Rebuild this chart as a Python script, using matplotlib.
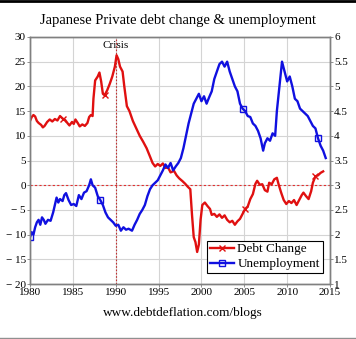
import matplotlib
matplotlib.use("Agg")
import matplotlib.pyplot as plt
from matplotlib.lines import Line2D

plt.rcParams["font.family"] = ["Liberation Serif", "DejaVu Serif"]

# Private debt change (% of GDP, left axis)
debt_years = [1980.0, 1980.2, 1980.4, 1980.6, 1980.8, 1981.0, 1981.3, 1981.5, 1981.7, 1982.0,
              1982.3, 1982.6, 1982.9, 1983.2, 1983.5, 1983.8, 1984.1, 1984.4, 1984.6, 1984.9,
              1985.1, 1985.3, 1985.6, 1985.8, 1986.1, 1986.4, 1986.7, 1986.9, 1987.1, 1987.3,
              1987.4, 1987.6, 1987.9, 1988.1, 1988.3, 1988.5, 1988.7, 1989.0, 1989.3, 1989.6,
              1989.9, 1990.1, 1990.3, 1990.5, 1990.8, 1991.0, 1991.3, 1991.6, 1992.0, 1992.4,
              1992.8, 1993.2, 1993.6, 1994.0, 1994.3, 1994.6, 1994.9, 1995.2, 1995.5, 1995.8,
              1996.1, 1996.4, 1996.8, 1997.1, 1997.4, 1997.8, 1998.1, 1998.4, 1998.7, 1998.9,
              1999.1, 1999.3, 1999.5, 1999.7, 1999.9, 2000.1, 2000.4, 2000.7, 2001.0, 2001.2,
              2001.5, 2001.8, 2002.1, 2002.4, 2002.7, 2003.0, 2003.3, 2003.6, 2003.9, 2004.2,
              2004.5, 2004.8, 2005.1, 2005.4, 2005.7, 2006.0, 2006.3, 2006.5, 2006.8, 2007.1,
              2007.4, 2007.7, 2007.9, 2008.2, 2008.5, 2008.8, 2009.0, 2009.3, 2009.6, 2009.9,
              2010.2, 2010.5, 2010.8, 2011.1, 2011.4, 2011.7, 2011.9, 2012.2, 2012.5, 2012.8,
              2013.0, 2013.3, 2013.6, 2013.9, 2014.2]
debt_vals = [13.0, 13.8, 14.2, 13.9, 13.0, 12.6, 12.2, 11.7, 12.0, 12.8,
             13.3, 12.9, 13.4, 13.1, 14.0, 13.5, 13.2, 12.5, 12.1, 12.8,
             12.4, 13.3, 12.5, 11.9, 12.3, 12.0, 12.6, 13.8, 14.2, 14.0,
             17.5, 21.2, 22.0, 22.8, 21.0, 18.5, 18.2, 19.2, 20.5, 22.0,
             24.0, 26.3, 25.5, 24.0, 23.0, 20.0, 16.0, 15.0, 13.0, 11.5,
             10.0, 8.8, 7.5, 5.8, 4.5, 3.8, 4.3, 3.9, 4.4, 3.5,
             3.6, 2.6, 2.9, 2.0, 1.4, 0.8, 0.3, -0.3, -0.8, -6.0,
             -10.5, -11.5, -13.5, -12.0, -7.0, -4.0, -3.5, -4.2, -4.8, -6.0,
             -5.8, -6.4, -5.9, -6.6, -6.1, -7.0, -7.5, -7.2, -8.0, -7.3,
             -6.8, -5.8, -4.8, -4.3, -2.8, -1.8, 0.3, 0.9, 0.1, 0.2,
             -1.0, -1.3, 0.5, 0.2, 1.2, 1.5, 0.2, -1.5, -3.0, -3.8,
             -3.2, -3.6, -3.0, -4.0, -3.0, -2.0, -1.5, -2.2, -2.8, -1.2,
             0.5, 1.8, 2.0, 2.5, 2.8]

# Unemployment rate (%, right axis)
unemp_years = [1980.0, 1980.2, 1980.4, 1980.6, 1980.8, 1981.0, 1981.2, 1981.4, 1981.6, 1981.8,
               1982.1, 1982.4, 1982.7, 1982.9, 1983.1, 1983.3, 1983.5, 1983.8, 1984.0, 1984.2,
               1984.5, 1984.8, 1985.1, 1985.4, 1985.7, 1986.0, 1986.3, 1986.6, 1986.9, 1987.1,
               1987.3, 1987.6, 1987.9, 1988.2, 1988.5, 1988.8, 1989.1, 1989.4, 1989.7, 1990.0,
               1990.3, 1990.6, 1990.9, 1991.2, 1991.5, 1991.9, 1992.2, 1992.5, 1992.8, 1993.1,
               1993.4, 1993.7, 1994.0, 1994.3, 1994.6, 1994.9, 1995.2, 1995.5, 1995.8, 1996.1,
               1996.4, 1996.7, 1997.0, 1997.3, 1997.6, 1997.9, 1998.2, 1998.5, 1998.8, 1999.1,
               1999.4, 1999.7, 2000.0, 2000.3, 2000.6, 2000.9, 2001.2, 2001.5, 2001.8, 2002.1,
               2002.4, 2002.7, 2003.0, 2003.3, 2003.6, 2003.9, 2004.2, 2004.5, 2004.8, 2005.1,
               2005.4, 2005.7, 2006.0, 2006.3, 2006.6, 2006.9, 2007.2, 2007.4, 2007.7, 2008.0,
               2008.3, 2008.6, 2008.8, 2009.1, 2009.4, 2009.7, 2010.0, 2010.3, 2010.6, 2010.9,
               2011.2, 2011.5, 2011.8, 2012.1, 2012.4, 2012.7, 2013.0, 2013.3, 2013.6, 2013.9,
               2014.2, 2014.5]
unemp_vals = [1.95, 2.05, 2.0, 2.15, 2.25, 2.3, 2.2, 2.35, 2.3, 2.22,
              2.3, 2.28, 2.45, 2.6, 2.75, 2.65, 2.72, 2.68, 2.8, 2.84,
              2.7, 2.6, 2.62, 2.58, 2.8, 2.72, 2.85, 2.88, 3.0, 3.12,
              3.0, 2.95, 2.78, 2.7, 2.6, 2.45, 2.35, 2.3, 2.25, 2.18,
              2.2, 2.08, 2.15, 2.1, 2.12, 2.08, 2.2, 2.3, 2.42, 2.5,
              2.6, 2.78, 2.92, 3.0, 3.05, 3.1, 3.2, 3.3, 3.42, 3.35,
              3.45, 3.3, 3.38, 3.45, 3.55, 3.75, 4.0, 4.25, 4.45, 4.65,
              4.75, 4.85, 4.7, 4.8, 4.65, 4.78, 4.9, 5.15, 5.3, 5.45,
              5.5, 5.4, 5.5, 5.3, 5.15, 5.0, 4.9, 4.65, 4.55, 4.5,
              4.4, 4.38, 4.25, 4.2, 4.1, 3.95, 3.7, 3.85, 3.95, 3.9,
              4.05, 4.0, 4.5, 5.0, 5.5, 5.3, 5.1, 5.2, 5.0, 4.75,
              4.7, 4.55, 4.5, 4.45, 4.4, 4.3, 4.2, 4.15, 3.95, 3.8,
              3.7, 3.55]

left_ticks = [-20, -15, -10, -5, 0, 5, 10, 15, 20, 25, 30]
right_ticks = [1, 1.5, 2, 2.5, 3, 3.5, 4, 4.5, 5, 5.5, 6]
x_ticks = [1980, 1985, 1990, 1995, 2000, 2005, 2010, 2015]

fig = plt.figure(figsize=(3.56, 3.39), dpi=100)
ax = fig.add_axes([0.0843, 0.162, 0.8427, 0.729])
ax2 = ax.twinx()

ax.set_xlim(1980, 2015)
ax.set_ylim(-20, 30)
ax2.set_ylim(1, 6)

ax.set_xticks(x_ticks)
ax.set_yticks(left_ticks)
ax.set_yticklabels([f"\u2212 {abs(v)}" if v < 0 else str(v) for v in left_ticks])
ax2.set_yticks(right_ticks)
ax2.set_yticklabels([f"{v:g}" for v in right_ticks])
ax.grid(True, color="#d4d4d4", lw=0.8)
ax.set_axisbelow(True)

for a in (ax, ax2):
    a.tick_params(labelsize=8, length=2, width=0.6, color="#808080", pad=1)
    for s in a.spines.values():
        s.set_color("#808080")
        s.set_linewidth(1.0)

ax.axhline(0, color="#e03030", ls=(0, (2, 2)), lw=0.8)
ax.axvline(1990, color="#c03030", ls=(0, (1.5, 1.5)), lw=0.8)
ax.text(1990, 28.3, "Crisis", ha="center", va="center", fontsize=8)

l1, = ax.plot(debt_years, debt_vals, color="#e01010", lw=1.7, marker="x",
              markersize=5, markevery=[15, 36, 92, 121], label="Debt Change")
l2, = ax2.plot(unemp_years, unemp_vals, color="#1010e0", lw=1.7, marker="s",
               markersize=4, markerfacecolor="none", markevery=[0, 33, 88, 118],
               label="Unemployment")

leg = ax2.legend([l1, l2], ["Debt Change", "Unemployment"], loc="lower right",
                 bbox_to_anchor=(0.975, 0.045), fontsize=9.5, fancybox=False,
                 framealpha=1, edgecolor="black", borderpad=0.2, handlelength=1.8,
                 handletextpad=0.3, labelspacing=0.2, borderaxespad=0)
leg.get_frame().set_linewidth(0.8)

fig.text(0.5, 0.94, "Japanese Private debt change & unemployment", ha="center",
         va="center", fontsize=10.5)
fig.text(0.515, 0.077, "www.debtdeflation.com/blogs", ha="center", va="center",
         fontsize=9.5)

fig.add_artist(Line2D([0, 1], [0.997, 0.997], color="black", lw=2))
fig.add_artist(Line2D([0, 1], [0.004, 0.004], color="#909090", lw=1))

fig.savefig("out.png", dpi=100)
